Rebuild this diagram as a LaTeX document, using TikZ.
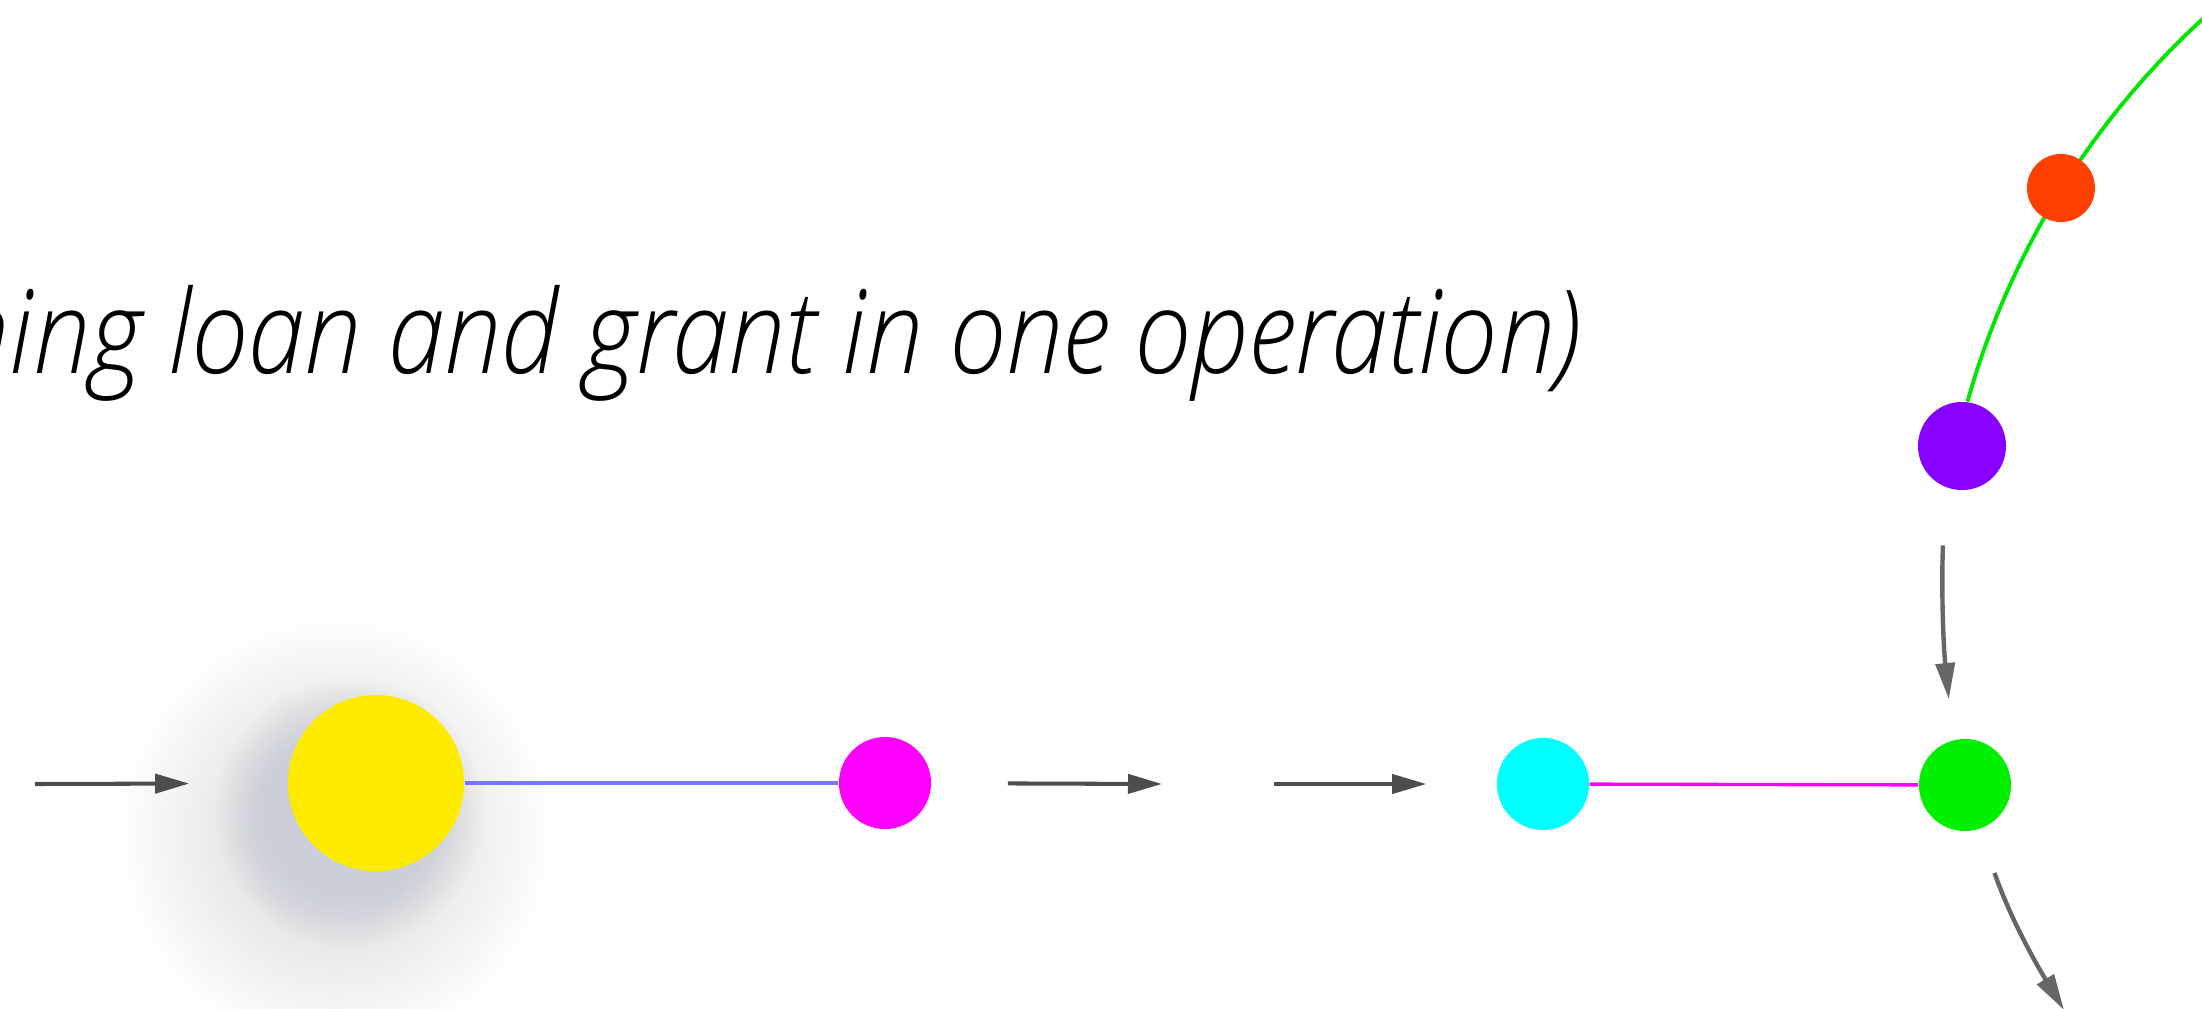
\documentclass[tikz,border=0pt]{standalone}
\usepackage{fontspec}
\usetikzlibrary{arrows.meta,calc}

\IfFontExistsTF{Open Sans Light Italic}
  {\newfontfamily\capfont{Open Sans Light Italic}[FakeStretch=0.88]\def\capshape{}}
  {\newfontfamily\capfont{Open Sans}[FakeStretch=0.88]\def\capshape{\itshape}}

\definecolor{ybright}{HTML}{FFEB00}
\definecolor{ydark}{HTML}{D2BE00}
\definecolor{magentanode}{HTML}{FF00FF}
\definecolor{cyannode}{HTML}{00FFFF}
\definecolor{greennode}{HTML}{00F000}
\definecolor{purplenode}{HTML}{8800FF}
\definecolor{orangenode}{HTML}{FF4000}
\definecolor{arcgreen}{HTML}{00E600}
\definecolor{linkblue}{HTML}{7878F6}
\definecolor{arrowdark}{HTML}{4D4D4D}
\definecolor{arrowgray}{HTML}{666666}
\definecolor{shadowtone}{RGB}{80,86,102}

\pgfdeclareradialshading{yellowball}{\pgfpoint{16bp}{16bp}}{%
  color(0bp)=(ybright); color(42bp)=(ybright); color(64bp)=(ydark); color(80bp)=(ydark)}

\tikzset{
  dot/.style={circle, inner sep=0pt, draw=none, minimum size=#1},
  flatarrow/.style={draw=arrowdark, line width=1.15pt,
    -{Triangle[length=0.34cm, width=0.19cm]}},
  bentarrow/.style={draw=arrowgray, line width=1.25pt,
    -{Triangle[length=0.36cm, width=0.19cm]}},
  link/.style={line width=0.95pt},
}

\begin{document}
\begin{tikzpicture}[x=0.01cm, y=0.01cm]
  \useasboundingbox (0,0) rectangle (2202,-1009);
  \clip (0,0) rectangle (2202,-1009);
  \fill[white] (0,0) rectangle (2202,-1009);

  % caption line
  \node[anchor=base east, inner sep=0pt,
        font=\capfont\capshape\fontsize{33}{38}\selectfont] (caption)
    at (1582,-373) {ning loan and grant in one operation)};

  % soft drop shadow under the large ball, thrown to the lower left
  \foreach \r in {220,215,...,90}
    \fill[shadowtone, fill opacity=0.0055] (336,-834) circle[radius=\r];
  \foreach \r in {135,131,...,87}
    \fill[shadowtone, fill opacity=0.009] (350,-812) circle[radius=\r];

  % nodes of the chain
  \node[dot=1.76cm, shade, shading=yellowball] (yellow) at (376,-783) {};
  \node[dot=0.92cm, fill=magentanode] (magenta) at (885,-783) {};
  \node[dot=0.92cm, fill=cyannode] (cyan) at (1543,-784) {};
  \node[dot=0.92cm, fill=greennode] (green) at (1965,-785) {};
  \node[dot=0.88cm, fill=purplenode] (purple) at (1962,-446) {};

  % free ends of the connectors
  \coordinate (in1) at (35,-784);
  \coordinate (out2) at (1162,-784);
  \coordinate (in3) at (1274,-784);
  \coordinate (out4) at (2064,-1010);

  % straight links
  \draw[link, linkblue] (yellow) -- (magenta);
  \draw[link, magentanode] (cyan) -- (green);

  % horizontal arrows
  \draw[flatarrow, shorten >=0.98cm] (in1) -- (yellow);
  \draw[flatarrow, shorten <=0.76cm] (magenta) -- (out2);
  \draw[flatarrow, shorten >=0.70cm] (in3) -- (cyan);

  % curved arrows around the green node
  \draw[bentarrow, shorten <=0.58cm, shorten >=0.41cm]
    (purple.248) to[bend right=4] (green.105);
  \draw[bentarrow, shorten <=0.46cm] (green.-72) to[bend right=6] (out4);

  % green arc through the orange node
  \draw[link, arcgreen, line width=1.1pt]
    (purple.83) arc[start angle=164.3, end angle=127, radius=8.2cm];
  \node[dot=0.68cm, fill=orangenode] (orange) at (2061,-188) {};
\end{tikzpicture}
\end{document}
